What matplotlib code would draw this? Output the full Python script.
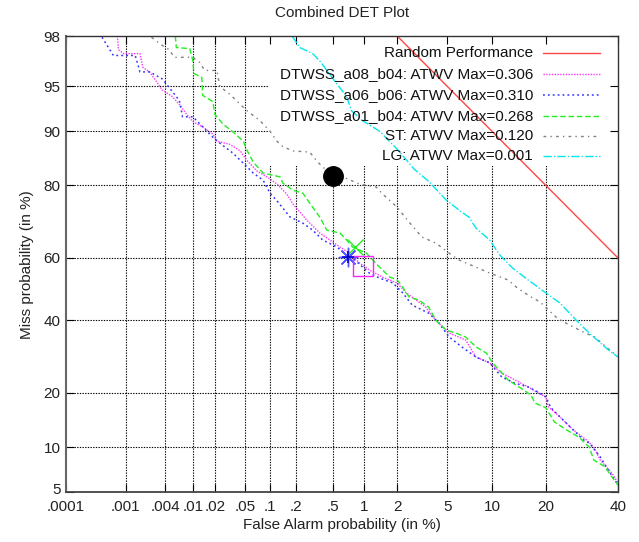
import math
import numpy as np
import matplotlib
matplotlib.use("Agg")
import matplotlib.pyplot as plt
from matplotlib.patches import Rectangle
from matplotlib.lines import Line2D
import matplotlib.transforms as mtransforms

plt.rcParams['font.family'] = ['Liberation Sans', 'DejaVu Sans']

# ---------------- data (percent) ----------------
x_ticks = [0.0001, 0.001, 0.004, 0.01, 0.02, 0.05, 0.1, 0.2, 0.5, 1, 2, 5, 10, 20, 40]
x_tick_labels = [".0001", ".001", ".004", ".01", ".02", ".05", ".1", ".2", ".5",
                 "1", "2", "5", "10", "20", "40"]
y_ticks = [5, 10, 20, 40, 60, 80, 90, 95, 98]
y_tick_labels = ["5", "10", "20", "40", "60", "80", "90", "95", "98"]

random_fa = [2, 40]
random_miss = [98, 60]

a08_fa = [.00073, .00076, .00092, .00166, .00184, .00233, .00295, .00361, .00507, .00643,
          .00816, .01, .0137, .0188, .0213, .0316, .043, .0528, .0697, .092, .121, .157,
          .185, .262, .362, .464, .585, .731, .914, 1.13, 1.49, 2.0, 2.39, 3.02, 3.43, 4.10,
          5.16, 6.75, 7.91, 9.69, 11.5, 13.7, 16.2, 18.3, 20, 20.6, 23.4, 26.8, 30.4, 32.6,
          34.5, 38.1, 40]
a08_miss = [98.0, 97.4, 97.2, 97.2, 96.4, 96.1, 95.4, 94.7, 94.1, 93.3,
            92.2, 91.3, 90.6, 89.6, 88.5, 88.0, 86.9, 85.1, 83.1, 81.9, 80.3, 78.0,
            75.5, 71.3, 67.6, 65.5, 63.4, 61.5, 58.4, 56.2, 53.9, 52.0, 48.8, 45.9, 44.2, 40.1,
            36.1, 34.0, 29.1, 27.5, 24.8, 23.1, 21.4, 20.0, 19.1, 17.0, 15.0, 12.7, 11.1, 10.0,
            8.3, 6.8, 5.8]

a06_fa = [.00041, .00063, .0014, .00166, .00233, .00361, .00458, .00643, .00713, .01,
          .0137, .0188, .0233, .0347, .0528, .0624, .0824, .1, .121, .171, .238, .305, .390,
          .547, .684, .782, 1.13, 1.40, 1.84, 2.23, 2.67, 3.62, 4.33, 5.16, 6.34, 7.91, 9.69,
          11.5, 13.7, 16.2, 18.3, 20, 21.2, 23.4, 26.8, 29.6, 31.3, 34.5, 37.0, 39.6]
a06_miss = [97.95, 97.1, 97.1, 96.1, 96.1, 95.6, 94.9, 93.7, 91.9, 91.9,
            90.6, 89.1, 88.2, 86.5, 83.9, 82.7, 81.2, 78.2, 76.3, 72.1, 70.4, 68.4, 65.5,
            63.4, 60.9, 60.0, 55.2, 53.6, 52.0, 48.8, 44.9, 42.3, 39.2, 34.9, 32.0, 29.1, 27.5,
            23.8, 22.3, 21.4, 20.2, 19.1, 16.8, 15.0, 12.7, 11.1, 10.6, 8.7, 7.1, 5.8]

a01_fa = [.00562, .00581, .00904, .01, .0103, .0133, .0137, .0188, .02, .0255, .0347, .047,
          .0528, .0624, .0824, .131, .142, .185, .238, .305, .362, .431, .585, .684, .782,
          1.06, 1.40, 1.73, 2.0, 2.23, 2.52, 3.02, 3.62, 4.10, 4.91, 5.77, 6.75, 7.91, 9.25,
          10.1, 11.1, 12.5, 14.8, 16.8, 17.6, 20, 22.0, 25.0, 28.4, 31.3, 32.6, 35.9, 38.1, 40]
a01_miss = [98.0, 97.5, 97.45, 96.8, 96.0, 95.7, 94.2, 93.6, 92.2, 91.0, 89.9, 88.5,
            86.9, 84.9, 82.7, 81.9, 80.5, 78.9, 78.2, 74.7, 72.1, 68.4, 67.6, 65.5, 63.4,
            61.5, 57.1, 53.9, 53.0, 50.7, 47.5, 46.5, 44.2, 40.1, 37.0, 36.1, 34.9, 32.0, 30.2,
            27.5, 25.6, 23.1, 21.1, 19.5, 17.8, 16.8, 14.1, 12.7, 11.5, 10.0, 8.3, 7.5, 6.4, 5.6]

st_fa = [.00249, .00361, .00458, .00543, .01, .0125, .0146, .0213, .0233, .0316, .051,
         .0759, .1, .121, .142, .185, .283, .337, .390, .464, .625, .914, 1.31, 1.49, 2.0,
         2.52, 3.2, 4.10, 5.16, 6.04, 7.91, 9.69, 12.5, 14.2, 16.8, 18.7, 20.6, 22.7, 25.8,
         29.6, 32.9, 35.9, 40]
st_miss = [97.95, 97.6, 97.4, 97.0, 97.0, 96.7, 96.2, 96.2, 95.0, 94.3, 92.7,
           91.4, 90.0, 88.5, 87.6, 86.9, 86.7, 85.1, 83.9, 82.9, 81.9, 80.3, 79.6, 78.0, 74.7,
           70.7, 66.4, 64.6, 61.5, 59.4, 57.1, 55.2, 53.0, 50.3, 47.5, 45.9, 43.3, 40.7, 38.6,
           36.4, 34.9, 32.3, 29.2]

lg_fa = [.180, .221, .305, .362, .431, .547, .684, .765, .98, 1.21, 1.40, 2.0, 2.77, 3.62,
         4.91, 6.34, 7.08, 7.91, 9.69, 11.1, 13.3, 16.2, 20, 23.4, 27.6, 31.3, 37.0, 40]
lg_miss = [98.0, 97.5, 97.2, 96.8, 96.2, 95.2, 94.1, 92.6, 91.4, 90.6, 90.0, 87.2, 83.5, 80.9,
           76.5, 73.4, 72.1, 69.0, 65.5, 61.1, 56.8, 53.0, 48.8, 45.5, 40.1, 36.1, 31.1, 29.1]

# ATWV max points
st_max = (0.5, 82.0)
a01_max = (0.83, 63.3)
a06_max = (0.70, 60.3)
a08_max = (0.98, 57.6)

labels = ["Random Performance",
          "DTWSS_a08_b04: ATWV Max=0.306",
          "DTWSS_a06_b06: ATWV Max=0.310",
          "DTWSS_a01_b04: ATWV Max=0.268",
          "ST: ATWV Max=0.120",
          "LG: ATWV Max=0.001"]

# ---------------- probit scale ----------------
_a = [-3.969683028665376e+01, 2.209460984245205e+02, -2.759285104469687e+02,
      1.383577518672690e+02, -3.066479806614716e+01, 2.506628277459239e+00]
_b = [-5.447609879822406e+01, 1.615858368580409e+02, -1.556989798598866e+02,
      6.680131188771972e+01, -1.328068155288572e+01]
_c = [-7.784894002430293e-03, -3.223964580411365e-01, -2.400758277161838e+00,
      -2.549732539343734e+00, 4.374664141464968e+00, 2.938163982698783e+00]
_d = [7.784695709041462e-03, 3.224671290700398e-01, 2.445134137142996e+00,
      3.754408661907416e+00]


def _ppf(p):
    p = np.clip(np.asarray(p, dtype=float), 1e-12, 1 - 1e-12)
    plow = 0.02425
    q1 = np.sqrt(-2 * np.log(p))
    xlo = (((((_c[0]*q1+_c[1])*q1+_c[2])*q1+_c[3])*q1+_c[4])*q1+_c[5]) / \
          ((((_d[0]*q1+_d[1])*q1+_d[2])*q1+_d[3])*q1+1)
    q2 = np.sqrt(-2 * np.log(1 - p))
    xhi = -(((((_c[0]*q2+_c[1])*q2+_c[2])*q2+_c[3])*q2+_c[4])*q2+_c[5]) / \
          ((((_d[0]*q2+_d[1])*q2+_d[2])*q2+_d[3])*q2+1)
    q = p - 0.5
    r = q * q
    xmid = (((((_a[0]*r+_a[1])*r+_a[2])*r+_a[3])*r+_a[4])*r+_a[5])*q / \
           (((((_b[0]*r+_b[1])*r+_b[2])*r+_b[3])*r+_b[4])*r+1)
    return np.where(p < plow, xlo, np.where(p > 1 - plow, xhi, xmid))


_erf = np.vectorize(math.erf)


def fwd(v):
    return _ppf(np.asarray(v, dtype=float) / 100.0)


def inv(z):
    z = np.asarray(z, dtype=float)
    return 100.0 * 0.5 * (1 + _erf(z / math.sqrt(2)))


# ---------------- figure ----------------
fig = plt.figure(figsize=(6.39, 5.42), dpi=100)
ax = fig.add_axes([66/639, 50/542, 552/639, 456/542])
ax.set_xscale('function', functions=(fwd, inv))
ax.set_yscale('function', functions=(fwd, inv))
ax.set_xlim(0.0001, 40)
ax.set_ylim(5, 98)

grid_kw = dict(color='black', lw=0.8, ls=(0, (1.2, 1.2)), zorder=0.3)
for xv in x_ticks[1:-1]:
    ax.axvline(xv, **grid_kw)
for yv in y_ticks[1:-1]:
    ax.axhline(yv, **grid_kw)

# opaque key background
ax.add_patch(Rectangle((0.366, 0.715), 0.634, 0.285, transform=ax.transAxes,
                       facecolor='white', edgecolor='none', zorder=0.6))

styles = [
    dict(color='#ff4545', lw=1.0, ls='-'),
    dict(color='#ff33ff', lw=1.0, ls=(0, (1, 1))),
    dict(color='#3333ff', lw=1.1, ls=(0, (1.2, 2))),
    dict(color='#22ee22', lw=1.0, ls=(0, (4, 2))),
    dict(color='#808080', lw=1.0, ls=(0, (2, 3, 1, 3))),
    dict(color='#00e8ee', lw=1.0, ls=(0, (6, 1.5, 1, 1.5))),
]

series = [(random_fa, random_miss), (a08_fa, a08_miss), (a06_fa, a06_miss),
          (a01_fa, a01_miss), (st_fa, st_miss), (lg_fa, lg_miss)]
for (xs, ys), st in zip(series, styles):
    ax.plot(xs, ys, zorder=2, **st)

# ATWV max markers
ax.plot([st_max[0]], [st_max[1]], marker='o', ms=14, color='black', ls='none', zorder=3)
ax.plot([a01_max[0]], [a01_max[1]], marker='x', ms=11, mew=1.0, color='#22ee22', ls='none', zorder=3)
ax.plot([a06_max[0]], [a06_max[1]], marker=(8, 2, 0), ms=14, mew=1.0, color='#5555ff', ls='none', zorder=3)
ax.plot([a06_max[0]], [a06_max[1]], marker='+', ms=9, mew=1.2, color='#0000cc', ls='none', zorder=3.1)
ax.plot([a08_max[0]], [a08_max[1]], marker='s', ms=15, mew=1.0, mfc='none', mec='#ff22ff', ls='none', zorder=3)

# key
row_y = [0.963, 0.917, 0.871, 0.825, 0.781, 0.737]
for lab, yy, st in zip(labels, row_y, styles):
    ax.text(0.846, yy, lab, transform=ax.transAxes, ha='right', va='center',
            fontsize=11, color='#111111', zorder=4)
    ax.add_line(Line2D([0.864, 0.967], [yy, yy], transform=ax.transAxes, zorder=4, **st))

ax.set_xticks(x_ticks)
ax.set_xticklabels(x_tick_labels)
ax.set_yticks(y_ticks)
ax.set_yticklabels(y_tick_labels)
ax.minorticks_off()
ax.tick_params(direction='in', length=6, width=0.8, top=True, right=True,
               labelsize=11, pad=4, colors='black', labelcolor='#222222')
ax.tick_params(axis='x', pad=6)

# nudge the lowest y label up so it clears the first x label
ylabs = ax.get_yticklabels()
ylabs[0].set_transform(ylabs[0].get_transform() +
                       mtransforms.ScaledTranslation(0, 3/100, fig.dpi_scale_trans))

for s in ax.spines.values():
    s.set_color('#333333')
    s.set_linewidth(1.0)
ax.spines['left'].set_color('#666666')
ax.spines['left'].set_linewidth(1.5)
ax.spines['bottom'].set_color('#444444')
ax.spines['bottom'].set_linewidth(1.3)

fig.text(342/639, 1 - 13/542, "Combined DET Plot", ha='center', va='center', fontsize=11, color='#222222')
fig.text(342/639, 1 - 525/542, "False Alarm probability (in %)", ha='center', va='center', fontsize=11, color='#222222')
fig.text(27/639, 1 - 265/542, "Miss probability (in %)", ha='center', va='center', rotation=90, fontsize=11, color='#222222')

fig.savefig("out.png", dpi=100, facecolor='white')
